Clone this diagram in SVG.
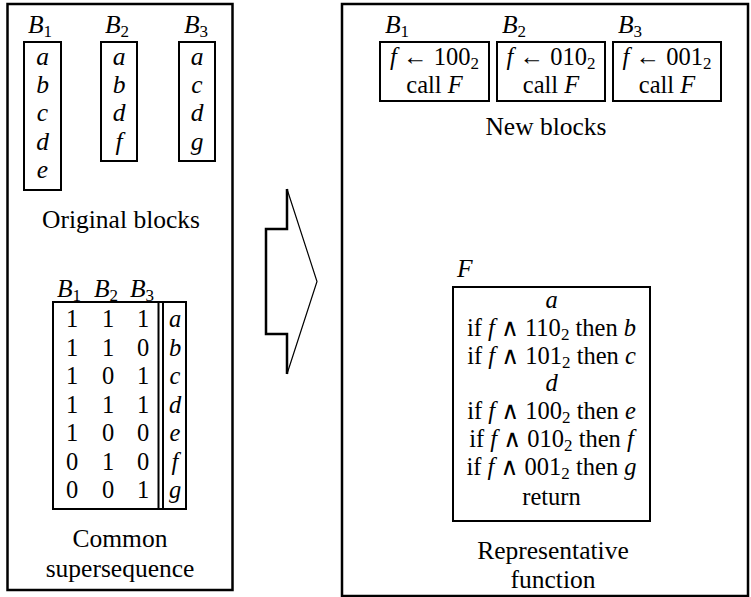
<svg xmlns="http://www.w3.org/2000/svg" width="751" height="597" viewBox="0 0 751 597" font-family="'Liberation Serif', 'Times New Roman', 'DejaVu Serif', serif">
<style>
.t{font-family:'Liberation Serif','Times New Roman','DejaVu Serif',serif;font-size:25.5px;fill:#000}
.f{font-size:24.5px}
.i{font-style:italic}
.c{text-anchor:middle}
.s{font-size:17px}
.box{fill:none;stroke:#000;stroke-width:2}
.pan{fill:none;stroke:#000;stroke-width:2.5}
</style>
<rect width="751" height="597" fill="#fff"/>
<g id="panel-left">
<rect class="pan" x="7.5" y="4" width="225" height="586"/>
</g>
<g id="panel-right">
<rect class="pan" x="342" y="4" width="406" height="592"/>
</g>
<g id="orig-B1">
<text class="t" x="28" y="33"><tspan class="i">B</tspan><tspan class="s" dy="4">1</tspan></text>
<rect class="box" x="24" y="42" width="37" height="148"/>
<text class="t i c" x="42.5" y="65">a</text>
<text class="t i c" x="42.5" y="93">b</text>
<text class="t i c" x="42.5" y="121">c</text>
<text class="t i c" x="42.5" y="150">d</text>
<text class="t i c" x="42.5" y="178">e</text>
</g>
<g id="orig-B2">
<text class="t" x="105" y="33"><tspan class="i">B</tspan><tspan class="s" dy="4">2</tspan></text>
<rect class="box" x="101" y="42" width="36" height="119"/>
<text class="t i c" x="119" y="65">a</text>
<text class="t i c" x="119" y="93">b</text>
<text class="t i c" x="119" y="121">d</text>
<text class="t i c" x="119" y="150">f</text>
</g>
<g id="orig-B3">
<text class="t" x="184" y="33"><tspan class="i">B</tspan><tspan class="s" dy="4">3</tspan></text>
<rect class="box" x="179" y="42" width="36" height="119"/>
<text class="t i c" x="197" y="65">a</text>
<text class="t i c" x="197" y="93">c</text>
<text class="t i c" x="197" y="121">d</text>
<text class="t i c" x="197" y="150">g</text>
</g>
<g id="label-original">
<text class="t c" x="121" y="228">Original blocks</text>
</g>
<g id="table">
<text class="t" x="57" y="297"><tspan class="i">B</tspan><tspan class="s" dy="4">1</tspan></text>
<text class="t" x="94" y="297"><tspan class="i">B</tspan><tspan class="s" dy="4">2</tspan></text>
<text class="t" x="130" y="297"><tspan class="i">B</tspan><tspan class="s" dy="4">3</tspan></text>
<rect class="box" x="53" y="302" width="133" height="207"/>
<line class="box" x1="158.5" y1="302" x2="158.5" y2="509"/>
<line class="box" x1="163" y1="302" x2="163" y2="509"/>
<g class="t f c">
<text x="72" y="327">1</text><text x="108" y="327">1</text><text x="143" y="327">1</text><text class="i" x="175" y="327">a</text>
<text x="72" y="356">1</text><text x="108" y="356">1</text><text x="143" y="356">0</text><text class="i" x="175" y="356">b</text>
<text x="72" y="384">1</text><text x="108" y="384">0</text><text x="143" y="384">1</text><text class="i" x="175" y="384">c</text>
<text x="72" y="413">1</text><text x="108" y="413">1</text><text x="143" y="413">1</text><text class="i" x="175" y="413">d</text>
<text x="72" y="441">1</text><text x="108" y="441">0</text><text x="143" y="441">0</text><text class="i" x="175" y="441">e</text>
<text x="72" y="470">0</text><text x="108" y="470">1</text><text x="143" y="470">0</text><text class="i" x="175" y="470">f</text>
<text x="72" y="498">0</text><text x="108" y="498">0</text><text x="143" y="498">1</text><text class="i" x="175" y="498">g</text>
</g>
</g>
<g id="label-common">
<text class="t c" x="120" y="547">Common</text>
<text class="t c" x="120" y="577">supersequence</text>
</g>
<g id="connectors">
<polyline fill="none" stroke="#000" stroke-width="2.5" points="287,189 287,229 266,229 266,334 287,334 287,374"/>
<polyline fill="none" stroke="#000" stroke-width="1.2" points="287,189 317,281.5 287,374"/>
</g>
<g id="new-B1">
<text class="t" x="385" y="33"><tspan class="i">B</tspan><tspan class="s" dy="4">1</tspan></text>
<rect class="box" x="380" y="42" width="109" height="59"/>
<text class="t f c" x="434.5" y="65"><tspan class="i">f</tspan> ← 100<tspan class="s" dy="3.5">2</tspan></text>
<text class="t f c" x="434.5" y="93">call <tspan class="i">F</tspan></text>
</g>
<g id="new-B2">
<text class="t" x="502" y="33"><tspan class="i">B</tspan><tspan class="s" dy="4">2</tspan></text>
<rect class="box" x="497" y="42" width="108" height="59"/>
<text class="t f c" x="551" y="65"><tspan class="i">f</tspan> ← 010<tspan class="s" dy="3.5">2</tspan></text>
<text class="t f c" x="551" y="93">call <tspan class="i">F</tspan></text>
</g>
<g id="new-B3">
<text class="t" x="618" y="33"><tspan class="i">B</tspan><tspan class="s" dy="4">3</tspan></text>
<rect class="box" x="613" y="42" width="108" height="59"/>
<text class="t f c" x="667" y="65"><tspan class="i">f</tspan> ← 001<tspan class="s" dy="3.5">2</tspan></text>
<text class="t f c" x="667" y="93">call <tspan class="i">F</tspan></text>
</g>
<g id="label-new">
<text class="t c" x="546" y="135">New blocks</text>
</g>
<g id="function-F">
<text class="t i" x="457" y="277">F</text>
<rect class="box" x="453" y="287" width="197" height="234"/>
<g class="t f c">
<text class="i" x="551.5" y="308">a</text>
<text x="551.5" y="336">if <tspan class="i">f</tspan> ∧ 110<tspan class="s" dy="3.5">2</tspan><tspan dy="-3.5"> then </tspan><tspan class="i">b</tspan></text>
<text x="551.5" y="364">if <tspan class="i">f</tspan> ∧ 101<tspan class="s" dy="3.5">2</tspan><tspan dy="-3.5"> then </tspan><tspan class="i">c</tspan></text>
<text class="i" x="551.5" y="391">d</text>
<text x="551.5" y="419">if <tspan class="i">f</tspan> ∧ 100<tspan class="s" dy="3.5">2</tspan><tspan dy="-3.5"> then </tspan><tspan class="i">e</tspan></text>
<text x="551.5" y="447">if <tspan class="i">f</tspan> ∧ 010<tspan class="s" dy="3.5">2</tspan><tspan dy="-3.5"> then </tspan><tspan class="i">f</tspan></text>
<text x="551.5" y="475">if <tspan class="i">f</tspan> ∧ 001<tspan class="s" dy="3.5">2</tspan><tspan dy="-3.5"> then </tspan><tspan class="i">g</tspan></text>
<text x="551.5" y="505">return</text>
</g>
</g>
<g id="label-representative">
<text class="t c" x="553" y="559">Representative</text>
<text class="t c" x="553" y="588">function</text>
</g>
</svg>
